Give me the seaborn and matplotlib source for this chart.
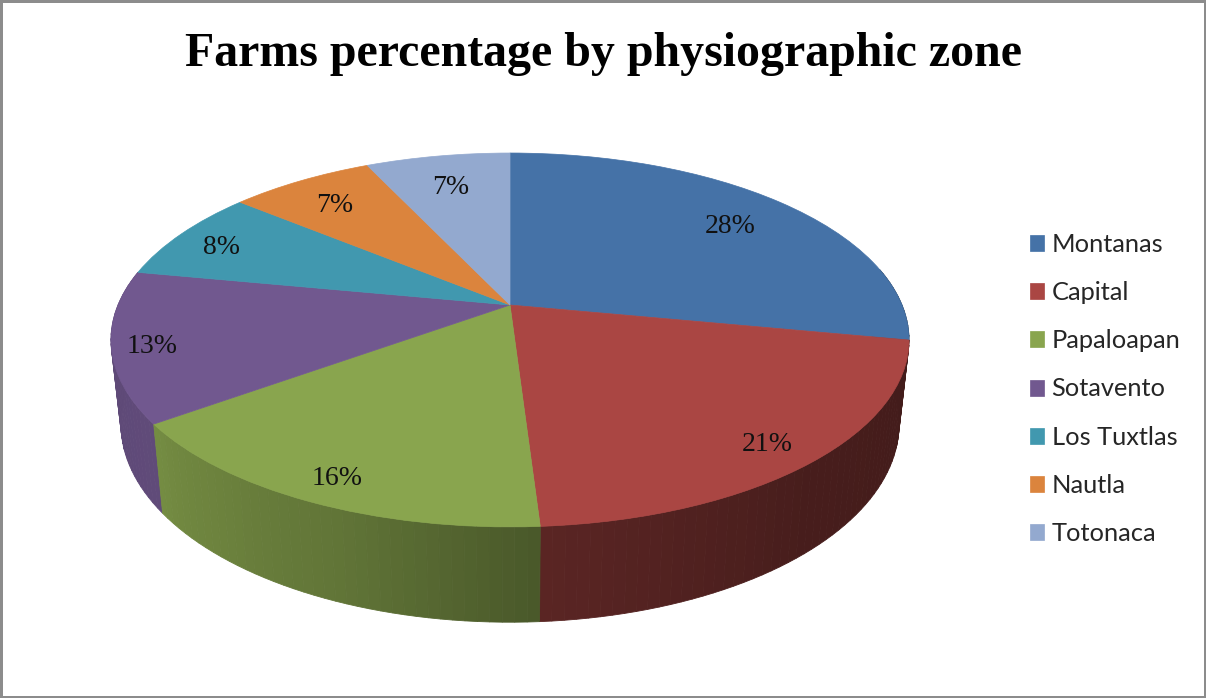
import numpy as np
import matplotlib
matplotlib.use("Agg")
import matplotlib.pyplot as plt
from matplotlib.transforms import Transform
import seaborn as sns

zones = ["Montanas", "Capital", "Papaloapan", "Sotavento", "Los Tuxtlas", "Nautla", "Totonaca"]
farm_pct = [28, 21, 16, 13, 8, 7, 7]
zone_colors = ["#4572A7", "#AA4643", "#89A54E", "#71588F", "#4198AF", "#DB843D", "#93A9CF"]
title = "Farms percentage by physiographic zone"

# how far out each label sits on the tilted disc
label_dist = [0.80, 0.87, 0.88, 0.9, 0.87, 0.82, 0.8]
# wall lighting against clock angle of the pie
shade_angle = [100, 140, 176, 200, 234, 280]
shade_level = [0.39, 0.42, 0.53, 0.70, 0.85, 0.82]


class TiltedDisc(Transform):
    """unit circle -> pixels around the pie apex, with the near side bigger"""
    input_dims = 2
    output_dims = 2

    def __init__(self, shrink=1.0, stretch=1.0, drop=0.0):
        super().__init__()
        self.shrink = shrink
        self.stretch = stretch
        self.drop = drop

    def transform_non_affine(self, values):
        values = np.asarray(values, dtype=float)
        w = 1 + 0.187 * values[:, 1]
        px = 392 * values[:, 0] / w * self.shrink
        py = 180.4 * values[:, 1] / w * self.stretch - self.drop
        return np.column_stack([px, py])


sns.set_style("white")
colors = sns.color_palette(zone_colors)

fig = plt.figure(figsize=(12.06, 6.98), dpi=100)
fig.patch.set_edgecolor("#8c8c8c")
fig.patch.set_linewidth(3.4)
ax = fig.add_axes([0, 0, 1, 1])

wedges, _, pct_texts = ax.pie(
    farm_pct,
    colors=colors,
    startangle=90,
    counterclock=False,
    autopct="%1.0f%%",
    textprops={"family": "Liberation Serif", "fontsize": 20, "color": "#111111"},
)
ax.set_aspect("auto")
ax.set_xlim(-510, 696)
ax.set_ylim(-393, 305)
ax.axis("off")

top = TiltedDisc()
bottom = TiltedDisc(shrink=0.975, stretch=1.06, drop=82)
label_plane = TiltedDisc(drop=5)

for wedge, text, dist, color in zip(wedges, pct_texts, label_dist, colors):
    wedge.set_transform(top + ax.transData)
    wedge.set_zorder(50)
    wedge.set_edgecolor(color)
    wedge.set_linewidth(0.5)
    mid = np.radians((wedge.theta1 + wedge.theta2) / 2)
    text.set_position((dist * np.cos(mid), dist * np.sin(mid)))
    text.set_transform(label_plane + ax.transData)
    text.set_zorder(60)

    # side wall, thin strips so the lighting bands like the original
    n = max(int((wedge.theta2 - wedge.theta1) / 1.5), 2)
    angles = np.radians(np.linspace(wedge.theta1, wedge.theta2, n + 1))
    rim = np.column_stack([np.cos(angles), np.sin(angles)])
    upper = top.transform(rim)
    lower = bottom.transform(rim)
    for i in range(n):
        # the far side of the wall is hidden behind the top anyway
        if rim[i:i + 2, 1].mean() > 0.2:
            continue
        clock = (90 - np.degrees(angles[i:i + 2].mean())) % 360
        level = np.interp(clock, shade_angle, shade_level)
        strip = np.array([upper[i], upper[i + 1], lower[i + 1], lower[i]])
        shade = tuple(c * level for c in color)
        ax.fill(strip[:, 0], strip[:, 1], color=shade, linewidth=0.6,
                zorder=20 - 10 * rim[i:i + 2, 1].mean())

fig.text(0.5008, 0.9055, title, ha="center", va="baseline",
         family="Liberation Serif", weight="bold", fontsize=34.5, color="black")

leg = ax.legend(
    wedges, zones,
    loc="upper left",
    bbox_to_anchor=(1029.5 / 1206, 1 - 233 / 698),
    bbox_transform=fig.transFigure,
    frameon=False,
    borderpad=0,
    borderaxespad=0,
    handlelength=0.59,
    handleheight=0.59,
    handletextpad=0.28,
    labelspacing=0.99,
    prop={"family": "Lato", "size": 18.3},
)
for label in leg.get_texts():
    label.set_color("#262626")

fig.savefig("out.png", dpi=100)
